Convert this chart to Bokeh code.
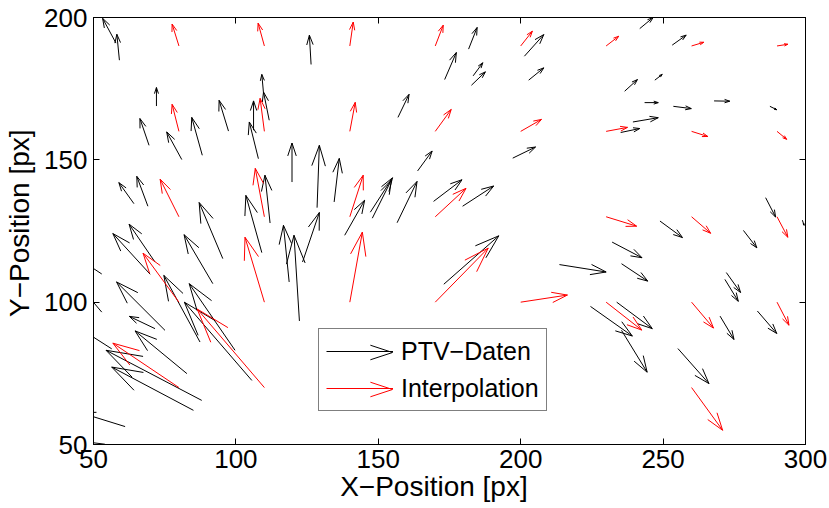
import numpy as np
from bokeh.plotting import figure
from bokeh.models import Range1d, LinearAxis, Legend, LegendItem, FixedTicker
from bokeh.embed import file_html
from bokeh.resources import INLINE

# ---- PTV data (black arrows): base position and displacement ----
ptv_x = [57.9, 59.1, 72.1, 69.5, 81.0, 88.2, 97.4, 107.9, 106.2, 109.7, 111.7, 126.4,
         119.7, 128.5, 134.5, 112.0, 138.2, 147.2, 147.9, 156.6, 163.8, 156.9, 118.7, 122.3,
         123.4, 169.4, 179.6, 197.2, 173.0, 181.7, 173.3, 183.3, 182.7, 201.3, 202.8, 236.5,
         241.8, 253.2, 247.1, 243.5, 253.6, 267.9, 287.5, 239.4, 235.1, 286.0, 298.9, 248.9,
         278.2, 232.1, 213.6, 235.4, 272.2, 271.7, 233.7, 224.5, 270.0, 283.1, 235.4, 255.2,
         69.9, 71.6, 64.2, 69.1, 95.4, 109.1, 91.9, 99.7, 105.6, 87.4, 88.0, 85.1, 82.8,
         71.6, 75.1, 61.1, 56.4, 52.9, 52.9, 54.0]
ptv_y = [191.0, 185.0, 168.9, 155.1, 150.1, 151.6, 160.1, 150.4, 160.4, 173.4, 163.9, 183.5,
         142.2, 133.2, 135.2, 127.8, 123.5, 131.6, 129.5, 127.9, 146.1, 164.9, 107.1, 93.4,
         114.1, 135.4, 133.7, 150.6, 106.3, 188.9, 178.2, 179.5, 176.2, 186.4, 178.0, 174.1,
         196.1, 190.3, 178.0, 170.1, 168.8, 170.7, 168.8, 163.3, 159.6, 136.7, 128.8, 128.5,
         125.2, 121.1, 113.2, 113.5, 110.4, 108.0, 100.0, 98.5, 95.1, 96.9, 90.1, 83.7,
         109.8, 114.1, 134.6, 133.7, 115.3, 117.4, 106.5, 83.1, 72.5, 86.0, 65.5, 62.0, 74.9,
         90.7, 90.1, 56.3, 83.6, 96.5, 109.9, 50.1]
ptv_u = [-4.7, -0.9, 0.0, -3.2, -5.3, -3.7, -3.3, -3.2, 0.0, -0.6, -2.0, -0.6,
         0.0, 0.8, 1.8, -1.8, 7.0, 7.8, 6.7, 7.0, 5.1, 3.9, -2.0, -1.9,
         5.9, 10.0, 10.9, 8.0, 19.3, 3.0, 4.1, 3.4, 4.9, 6.8, 5.3, 4.5,
         4.7, 4.9, 2.6, 4.8, 6.3, 5.5, 2.4, 8.9, 6.7, 3.5, 0.6, 7.9,
         4.7, 10.5, 16.4, 9.2, 5.0, 4.7, 12.5, 14.7, 4.9, 6.8, 9.0, 10.9,
         -13.1, -9.1, -5.3, -3.9, -8.3, -5.6, -10.1, -16.1, -23.7, -12.7, -33.6, -28.7, -18.2,
         -9.0, -17.0, -15.8, -12.8, -7.6, -5.9, -8.0]
ptv_v = [8.7, 9.1, 6.5, 9.4, 9.7, 13.3, 10.8, 12.9, 10.3, 6.6, 9.9, 10.3,
         13.7, 21.9, 15.3, 16.8, 12.3, 12.1, 13.4, 14.5, 7.0, 8.1, 19.9, 30.1,
         17.4, 7.6, 7.1, 3.9, 17.0, 7.6, 9.5, 4.6, 4.7, 7.6, 4.3, 4.1,
         3.9, 3.5, 2.0, 0.0, -0.8, -0.1, -1.2, 1.5, 1.4, -6.8, -1.8, -5.8,
         -6.1, -5.5, -2.6, -6.1, -7.0, -7.7, -9.3, -10.4, -8.2, -7.9, -14.7, -12.3,
         14.3, 13.3, 7.4, 10.5, 19.7, 20.1, 17.2, 23.4, 27.5, 23.4, 17.6, 15.2, 15.0,
         4.3, 17.0, 4.9, 8.2, 9.0, 3.9, 1.0]

# ---- Interpolation (red arrows) on grid ----
int_x = [80, 110, 140, 170, 200, 230, 260, 290,
         80, 110, 140, 170, 200, 230, 260, 290,
         80, 110, 140, 170, 230, 260, 290,
         80, 110, 140, 170, 200, 230, 260, 290,
         80, 110, 260]
int_y = [190, 190, 190, 190, 190, 190, 190, 190,
         160, 160, 160, 160, 160, 160, 160, 160,
         130, 130, 130, 130, 130, 130, 130,
         100, 100, 100, 100, 100, 100, 100, 100,
         70, 70, 70]
int_u = [-2.4, -2.2, 1.2, 2.8, 4.1, 4.4, 4.3, 3.8,
         -2.4, -1.5, 1.9, 5.6, 7.3, 7.5, 5.7, 3.4,
         -6.6, -3.2, 4.7, 10.8, 10.7, 6.7, 3.8,
         -12.6, -6.8, 4.4, 18.6, 16.4, 12.5, 7.7, 4.2,
         -23.2, -23.6, 10.9]
int_v = [7.7, 8.0, 8.4, 7.3, 5.2, 3.4, 1.3, 0.6,
         9.5, 11.6, 10.2, 7.7, 4.2, 1.4, -1.8, -2.8,
         13.2, 17.0, 14.6, 10.0, -3.3, -5.8, -7.2,
         17.2, 22.8, 24.6, 19.0, 2.5, -9.8, -9.1, -8.1,
         15.6, 27.6, -15.0]

x_ticks = [50, 100, 150, 200, 250, 300]
y_ticks = [50, 100, 150, 200]
labels = ["PTV−Daten", "Interpolation"]
colors = ["black", "red"]

FONT = "Liberation Sans"
NB = "\u00a0"
W, H = 829, 508
BL, BR, BT, BB = 93, 24, 17, 64
X0, X1, Y0, Y1 = 50, 300, 50, 200


def arrow_parts(x, y, u, v, alpha=0.33, beta=0.33):
    x = np.asarray(x, float); y = np.asarray(y, float)
    u = np.asarray(u, float); v = np.asarray(v, float)
    tx, ty = x + u, y + v
    b1x = tx - alpha * (u + beta * v)
    b1y = ty - alpha * (v - beta * u)
    b2x = tx - alpha * (u - beta * v)
    b2y = ty - alpha * (v + beta * u)
    return tx, ty, b1x, b1y, b2x, b2y


p = figure(width=W, height=H, output_backend="svg", toolbar_location=None,
           x_range=Range1d(X0, X1), y_range=Range1d(Y0, Y1),
           min_border_left=BL, min_border_right=BR, min_border_top=BT, min_border_bottom=BB)
p.grid.visible = False
p.background_fill_color = "white"
p.border_fill_color = "white"
p.outline_line_color = "black"

renderers = []
for xs, ys, us, vs, col in [(ptv_x, ptv_y, ptv_u, ptv_v, colors[0]),
                            (int_x, int_y, int_u, int_v, colors[1])]:
    tx, ty, b1x, b1y, b2x, b2y = arrow_parts(xs, ys, us, vs)
    r = p.segment(x0=xs, y0=ys, x1=tx, y1=ty, line_color=col, line_width=1)
    p.segment(x0=tx, y0=ty, x1=b1x, y1=b1y, line_color=col, line_width=1)
    p.segment(x0=tx, y0=ty, x1=b2x, y1=b2y, line_color=col, line_width=1)
    renderers.append(r)

for ax in (p.xaxis[0], p.yaxis[0]):
    ax.major_tick_in = 6
    ax.major_tick_out = 0
    ax.minor_tick_line_color = None
    ax.major_label_text_font = FONT
    ax.major_label_text_font_size = "26px"
    ax.major_label_text_color = "black"
    ax.axis_label_text_font = FONT
    ax.axis_label_text_font_size = "28px"
    ax.axis_label_text_font_style = "normal"
    ax.axis_label_text_color = "black"
    ax.axis_line_color = "black"
    ax.major_tick_line_color = "black"
p.xaxis[0].ticker = FixedTicker(ticks=x_ticks)
p.yaxis[0].ticker = FixedTicker(ticks=y_ticks)
p.xaxis[0].axis_label = "X−Position [px]" + NB * 4
p.yaxis[0].axis_label = NB * 2 + "Y−Position [px]"
p.xaxis[0].axis_label_standoff = 0
p.yaxis[0].axis_label_standoff = 6
p.xaxis[0].major_label_standoff = 5
p.yaxis[0].major_label_standoff = 6

top = LinearAxis(ticker=FixedTicker(ticks=x_ticks))
right = LinearAxis(ticker=FixedTicker(ticks=y_ticks))
for ax in (top, right):
    ax.major_tick_in = 6
    ax.major_tick_out = 0
    ax.minor_tick_line_color = None
    ax.major_label_text_font_size = "0px"
    ax.major_label_standoff = 0
    ax.axis_line_color = "black"
p.add_layout(top, "above")
p.add_layout(right, "right")

# legend geometry (screen px relative to the frame's bottom-left)
LX, LY, PAD, GW, ROW, SP = 225, 33, 7, 67, 30, 7
legend = Legend(items=[LegendItem(label=l, renderers=[r]) for l, r in zip(labels, renderers)],
                location=(LX, LY), glyph_width=GW, glyph_height=ROW, label_height=ROW,
                spacing=SP, padding=PAD, margin=0, label_standoff=8,
                label_text_font=FONT, label_text_font_size="25px", label_text_color="black",
                border_line_color="black", border_line_width=1,
                background_fill_alpha=0.0)
p.add_layout(legend, "center")

# arrow heads on the legend samples (screen offsets converted to data units)
fw, fh = W - BL - BR, H - BT - BB
kx, ky = (X1 - X0) / fw, (Y1 - Y0) / fh
total_h = 2 * PAD + 2 * ROW + SP
row_y = [LY + total_h - PAD - ROW / 2, LY + PAD + ROW / 2]
for yy, col in zip(row_y, colors):
    x_s, y_s = X0 + (LX + PAD) * kx, Y0 + yy * ky
    tx, ty, b1x, b1y, b2x, b2y = arrow_parts([x_s], [y_s], [GW * kx], [0.0])
    p.segment(x0=tx, y0=ty, x1=b1x, y1=b1y, line_color=col, line_width=1)
    p.segment(x0=tx, y0=ty, x1=b2x, y1=b2y, line_color=col, line_width=1)

open("out.html", "w").write(file_html(p, INLINE))
